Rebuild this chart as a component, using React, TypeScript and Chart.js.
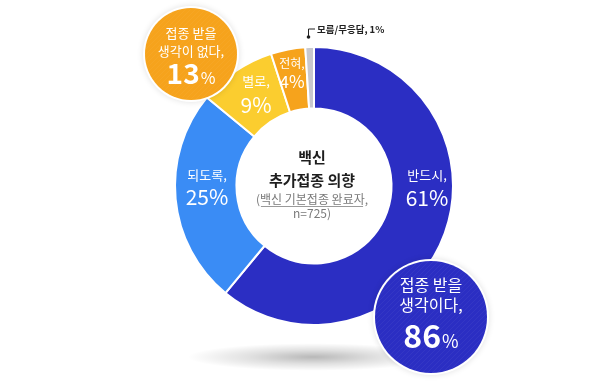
import React, { useEffect, useRef } from "react";
import { Chart, registerables } from "chart.js";

Chart.register(...registerables);

// ---- data ----
const categories = ["반드시", "되도록", "별로", "전혀", "모름/무응답"];
const values = [61, 25, 9, 4, 1];
const colors = ["#2b2ec3", "#3a8cf5", "#fbcd2f", "#f6a31c", "#c8c8ce"];
const groupLines = [
  ["접종 받을", "생각이 없다,"],
  ["접종 받을", "생각이다,"],
];
const groupValues = [13, 86];
const groupColors = ["#f6a31c", "#2b2ec3"];
const centerTitle = ["백신", "추가접종 의향"];
const centerNote = ["(백신 기본접종 완료자,", "n=725)"];

const FONT = '"Noto Sans CJK KR", "Noto Sans", sans-serif';

function makeStripe(ctx: CanvasRenderingContext2D) {
  const c = document.createElement("canvas");
  c.width = 5;
  c.height = 5;
  const g = c.getContext("2d")!;
  g.strokeStyle = "rgba(255,255,255,0.045)";
  g.lineWidth = 1;
  g.beginPath();
  g.moveTo(0, 5);
  g.lineTo(5, 0);
  g.moveTo(-2.5, 2.5);
  g.lineTo(2.5, -2.5);
  g.moveTo(2.5, 7.5);
  g.lineTo(7.5, 2.5);
  g.stroke();
  return ctx.createPattern(c, "repeat");
}

function drawNumPct(
  ctx: CanvasRenderingContext2D,
  num: string,
  x: number,
  baseY: number,
  numFont: string,
  pctFont: string,
  color: string
) {
  ctx.save();
  ctx.fillStyle = color;
  ctx.textBaseline = "alphabetic";
  ctx.textAlign = "left";
  ctx.font = numFont;
  const w1 = ctx.measureText(num).width;
  ctx.font = pctFont;
  const w2 = ctx.measureText("%").width;
  const start = x - (w1 + w2 + 1) / 2;
  ctx.font = numFont;
  ctx.fillText(num, start, baseY);
  ctx.font = pctFont;
  ctx.fillText("%", start + w1 + 1, baseY);
  ctx.restore();
}

const overlayPlugin = {
  id: "overlay",
  beforeDatasetsDraw(chart: any) {
    const ctx: CanvasRenderingContext2D = chart.ctx;
    const arc = chart.getDatasetMeta(0).data[0];
    const cx = arc.x;
    const cy = arc.y;
    // floor shadow
    ctx.save();
    ctx.translate(cx - 1, cy + 171);
    ctx.scale(1, 0.11);
    const g = ctx.createRadialGradient(0, 0, 0, 0, 0, 125);
    g.addColorStop(0, "rgba(0,0,0,0.28)");
    g.addColorStop(0.5, "rgba(0,0,0,0.12)");
    g.addColorStop(1, "rgba(0,0,0,0)");
    ctx.fillStyle = g;
    ctx.beginPath();
    ctx.arc(0, 0, 125, 0, Math.PI * 2);
    ctx.fill();
    ctx.restore();
  },
  afterDatasetsDraw(chart: any) {
    const ctx: CanvasRenderingContext2D = chart.ctx;
    const arc = chart.getDatasetMeta(0).data[0];
    const cx = arc.x;
    const cy = arc.y;
    const stripe = makeStripe(ctx);

    // segment labels
    const segPos = [
      [113, -11, 12, "13px", "21px"],
      [-107, -11, 11, "13px", "21px"],
      [-58, -105, -81, "13px", "21px"],
      [-22, -123, -104, "12px", "17px"],
    ] as const;
    ctx.save();
    ctx.fillStyle = "#ffffff";
    ctx.textAlign = "center";
    ctx.textBaseline = "middle";
    for (let i = 0; i < 4; i++) {
      const [dx, dy1, dy2, f1, f2] = segPos[i];
      ctx.font = `${f1} ${FONT}`;
      ctx.fillText(categories[i] + ",", cx + dx, cy + dy1);
      ctx.font = `${f2} ${FONT}`;
      ctx.fillText(values[i] + "%", cx + dx, cy + dy2);
    }
    ctx.restore();

    // 1% leader + label
    ctx.save();
    ctx.strokeStyle = "#222";
    ctx.fillStyle = "#222";
    ctx.lineWidth = 1;
    ctx.beginPath();
    ctx.moveTo(cx - 5.5, cy - 149);
    ctx.lineTo(cx - 5.5, cy - 157);
    ctx.lineTo(cx + 1, cy - 157);
    ctx.stroke();
    ctx.beginPath();
    ctx.arc(cx - 5.5, cy - 149, 1.8, 0, Math.PI * 2);
    ctx.fill();
    ctx.font = `bold 9.5px ${FONT}`;
    ctx.textAlign = "left";
    ctx.textBaseline = "middle";
    ctx.fillText(categories[4] + ", " + values[4] + "%", cx + 3, cy - 157);
    ctx.restore();

    // center text
    ctx.save();
    ctx.textAlign = "center";
    ctx.textBaseline = "middle";
    ctx.fillStyle = "#1e1e1e";
    ctx.font = `bold 15px ${FONT}`;
    ctx.fillText(centerTitle[0], cx - 2, cy - 29);
    ctx.fillText(centerTitle[1], cx - 2, cy - 6);
    ctx.fillStyle = "#7a7a7a";
    ctx.font = `12px ${FONT}`;
    ctx.fillText(centerNote[0], cx - 2, cy + 13);
    const w = ctx.measureText(centerNote[0]).width;
    ctx.strokeStyle = "#9a9a9a";
    ctx.lineWidth = 1;
    ctx.beginPath();
    ctx.moveTo(cx - 2 - w / 2 + 5, cy + 20.5);
    ctx.lineTo(cx - 2 + w / 2 - 5, cy + 20.5);
    ctx.stroke();
    ctx.fillText(centerNote[1], cx - 2, cy + 27);
    ctx.restore();

    // callout circles
    const circles = [
      { x: cx - 123, y: cy - 132, r: 46, lines: [-21, -3], base: 30, nf: 28, pf: 16, tf: 13 },
      { x: cx + 117, y: cy + 131, r: 56, lines: [-32, -12], base: 31, nf: 32, pf: 18, tf: 16 },
    ];
    circles.forEach((c, i) => {
      ctx.save();
      ctx.shadowColor = "rgba(0,0,0,0.12)";
      ctx.shadowBlur = 6;
      ctx.beginPath();
      ctx.arc(c.x, c.y, c.r + 2, 0, Math.PI * 2);
      ctx.fillStyle = "#ffffff";
      ctx.fill();
      ctx.restore();
      ctx.save();
      ctx.beginPath();
      ctx.arc(c.x, c.y, c.r, 0, Math.PI * 2);
      ctx.fillStyle = groupColors[i];
      ctx.fill();
      if (stripe) {
        ctx.fillStyle = stripe;
        ctx.fill();
      }
      ctx.fillStyle = "#ffffff";
      ctx.textAlign = "center";
      ctx.textBaseline = "middle";
      ctx.font = `${c.tf}px ${FONT}`;
      ctx.fillText(groupLines[i][0], c.x, c.y + c.lines[0]);
      ctx.fillText(groupLines[i][1], c.x, c.y + c.lines[1]);
      ctx.restore();
      drawNumPct(
        ctx,
        String(groupValues[i]),
        c.x,
        c.y + c.base,
        `bold ${c.nf}px ${FONT}`,
        `${c.pf}px ${FONT}`,
        "#ffffff"
      );
    });
  },
};

export default function App() {
  const ref = useRef<HTMLCanvasElement | null>(null);
  useEffect(() => {
    if (!ref.current) return;
    const chart = new Chart(ref.current, {
      type: "doughnut",
      data: {
        labels: categories,
        datasets: [
          {
            data: values,
            backgroundColor: colors,
            borderColor: "#ffffff",
            borderWidth: 2,
          },
        ],
      },
      options: {
        responsive: false,
        animation: false,
        radius: 139,
        cutout: 77,
        rotation: 0,
        layout: { padding: { left: 175, right: 147, top: 47, bottom: 62 } },
        plugins: {
          legend: { display: false },
          tooltip: { enabled: false },
        },
      } as any,
      plugins: [overlayPlugin],
    });
    return () => chart.destroy();
  }, []);
  return (
    <div style={{ position: "absolute", left: 0, top: 0, width: 600, height: 387, background: "#fff" }}>
      <canvas ref={ref} width={600} height={387} />
    </div>
  );
}
